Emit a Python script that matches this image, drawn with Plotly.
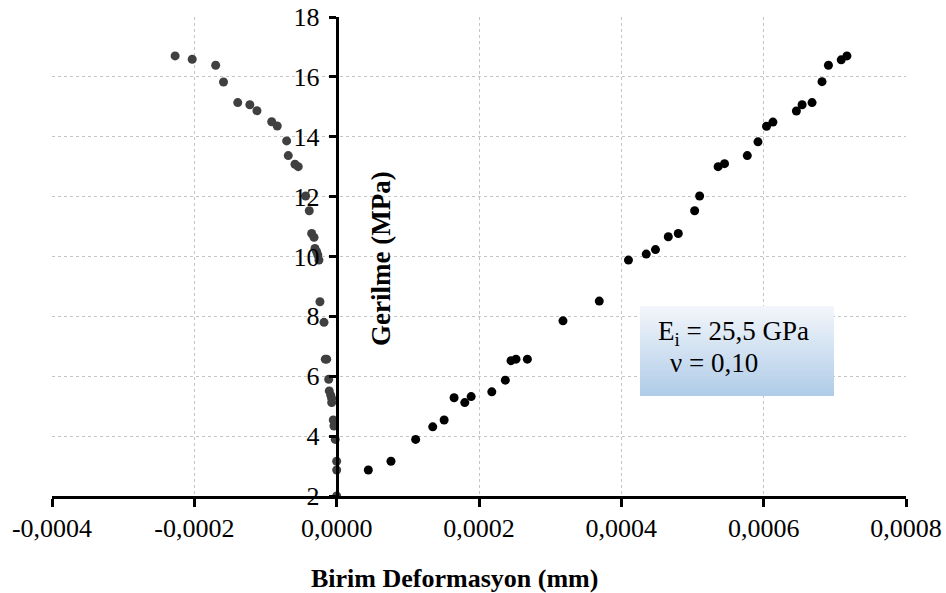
import plotly.graph_objects as go

# ---- data ----
right_x = [0.0000445, 0.0000763, 0.000111, 0.000135, 0.000151, 0.000165, 0.000180, 0.000189,
           0.000218, 0.000237, 0.000245, 0.000252, 0.000268, 0.000318, 0.000369, 0.000410,
           0.000435, 0.000448, 0.000466, 0.000480, 0.000503, 0.000510, 0.000536, 0.000545,
           0.000577, 0.000592, 0.000604, 0.000613, 0.000646, 0.000654, 0.000668, 0.000682,
           0.000691, 0.000709, 0.000717]
right_y = [2.87, 3.16, 3.89, 4.31, 4.54, 5.28, 5.12, 5.32,
           5.48, 5.87, 6.52, 6.57, 6.57, 7.85, 8.51, 9.88,
           10.08, 10.23, 10.66, 10.77, 11.53, 12.02, 13.00, 13.10,
           13.37, 13.83, 14.35, 14.49, 14.86, 15.07, 15.14, 15.84,
           16.39, 16.57, 16.70]

left_x = [0.0, 0.0, 0.0, -0.000002, -0.0000038, -0.0000048, -0.000007, -0.000007,
          -0.0000084, -0.0000104, -0.0000112, -0.000016, -0.000014, -0.0000178, -0.0000235,
          -0.0000249, -0.0000265, -0.0000281, -0.0000305, -0.0000318, -0.0000351, -0.0000385,
          -0.0000436, -0.000054, -0.0000586, -0.000068, -0.0000703, -0.0000835, -0.0000913,
          -0.000112, -0.000122, -0.000139, -0.000159, -0.000170, -0.000203, -0.000227]
left_y = [2.0, 2.87, 3.16, 3.89, 4.34, 4.54, 5.12, 5.26,
          5.37, 5.51, 5.90, 6.57, 6.57, 7.80, 8.49,
          9.88, 10.05, 10.16, 10.27, 10.64, 10.77, 11.53,
          12.02, 13.00, 13.08, 13.37, 13.86, 14.36, 14.50,
          14.87, 15.07, 15.14, 15.83, 16.39, 16.59, 16.70]

x_tickvals = [-0.0004, -0.0002, 0.0, 0.0002, 0.0004, 0.0006, 0.0008]
x_ticktext = ["-0,0004", "-0,0002", "0,0000", "0,0002", "0,0004", "0,0006", "0,0008"]
y_tickvals = [2, 4, 6, 8, 10, 12, 14, 16, 18]

x_title = "Birim Deformasyon (mm)"
y_title = "Gerilme (MPa)"
note_line1 = "E<sub>i</sub> = 25,5 GPa"
note_line2 = "ν = 0,10"

FONT = "Liberation Serif, Times New Roman, serif"
W, H = 946, 593
ML, MR, MT, MB = 52, 40, 17, 97
PW, PH = W - ML - MR, H - MT - MB

def px_x(p):
    return (p - ML) / PW

def px_y(p):
    return (H - MB - p) / PH

fig = go.Figure()
fig.add_trace(go.Scatter(x=right_x, y=right_y, mode="markers",
                         marker=dict(size=9, color="#000000"), showlegend=False))
fig.add_trace(go.Scatter(x=left_x, y=left_y, mode="markers",
                         marker=dict(size=9, color="#404040"), showlegend=False))

# gradient box
shapes = []
bx0, bx1, by0, by1 = 640, 834, 306, 396
n = 45
c_top = (242, 246, 251)
c_bot = (176, 204, 232)
for i in range(n):
    t = i / (n - 1)
    c = tuple(int(round(c_top[k] + (c_bot[k] - c_top[k]) * t)) for k in range(3))
    ya = by0 + (by1 - by0) * i / n
    yb = by0 + (by1 - by0) * (i + 1) / n + 0.6
    shapes.append(dict(type="rect", xref="paper", yref="paper",
                       x0=px_x(bx0), x1=px_x(bx1), y0=px_y(min(yb, by1)), y1=px_y(ya),
                       line=dict(width=0), fillcolor="rgb(%d,%d,%d)" % c, layer="above"))

annotations = [
    dict(text="<b>" + x_title + "</b>", xref="paper", yref="paper",
         x=px_x(454), y=px_y(578), showarrow=False, xanchor="center", yanchor="middle",
         font=dict(family=FONT, size=26, color="black")),
    dict(text="<b>" + y_title + "</b>", xref="paper", yref="paper",
         x=px_x(381), y=px_y(259), showarrow=False, xanchor="center", yanchor="middle",
         textangle=-90, font=dict(family=FONT, size=27, color="black")),
    dict(text=note_line1, xref="paper", yref="paper",
         x=px_x(656), y=px_y(333), showarrow=False, xanchor="left", yanchor="middle",
         font=dict(family=FONT, size=27, color="black")),
    dict(text=note_line2, xref="paper", yref="paper",
         x=px_x(668), y=px_y(363), showarrow=False, xanchor="left", yanchor="middle",
         font=dict(family=FONT, size=27, color="black")),
]

fig.update_layout(
    width=W, height=H,
    margin=dict(l=ML, r=MR, t=MT, b=MB, autoexpand=False),
    paper_bgcolor="white", plot_bgcolor="white",
    font=dict(family=FONT, size=26, color="black"),
    shapes=shapes, annotations=annotations,
    xaxis=dict(range=[-0.0004, 0.0008], tickvals=x_tickvals, ticktext=x_ticktext,
               automargin=False,
               showline=True, linecolor="black", linewidth=3,
               ticks="outside", ticklen=8, tickwidth=3, tickcolor="black",
               showgrid=True, gridcolor="#c4c4c4", gridwidth=1, griddash="dot",
               zeroline=False, tickfont=dict(family=FONT, size=26),
               ticklabelstandoff=-1),
    yaxis=dict(range=[2, 18], tickvals=y_tickvals,
               anchor="free", position=1/3, automargin=False,
               showline=True, linecolor="black", linewidth=3,
               ticks="outside", ticklen=7, tickwidth=3, tickcolor="black",
               showgrid=True, gridcolor="#c4c4c4", gridwidth=1, griddash="dot",
               zeroline=False, tickfont=dict(family=FONT, size=26),
               ticklabelstandoff=4),
)

fig.write_html("out.html", config={"displayModeBar": False},
               post_script="document.body.style.margin='0';document.body.style.padding='0';")
